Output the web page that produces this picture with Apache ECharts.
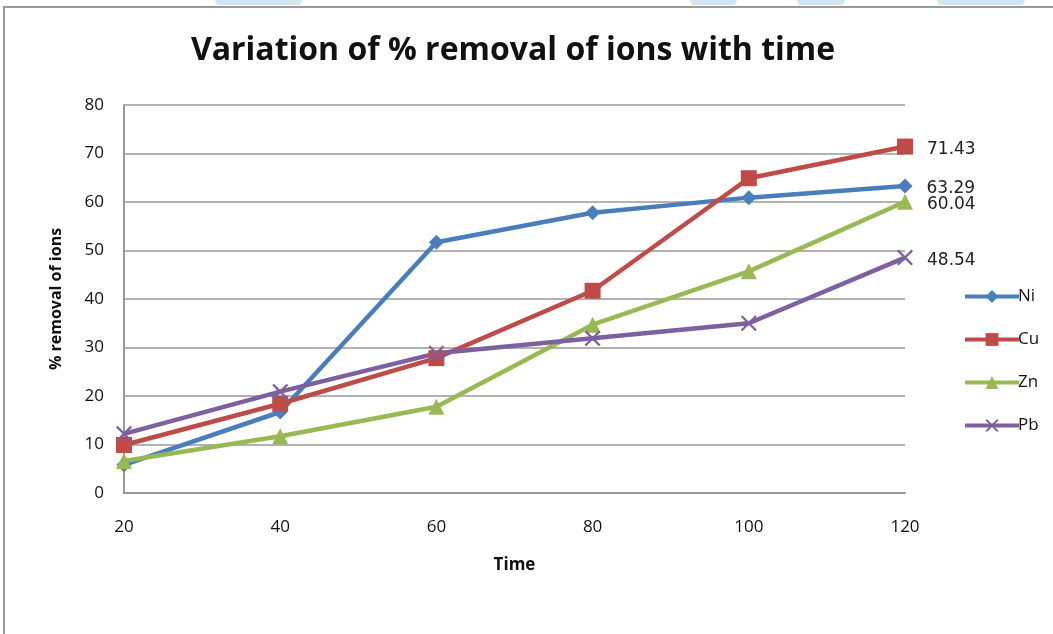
<!DOCTYPE html>
<html>
<head>
<meta charset="utf-8">
<title>Variation of % removal of ions with time</title>
<script src="https://cdn.jsdelivr.net/npm/echarts@6/dist/echarts.min.js"></script>
<style>
html,body{margin:0;padding:0;background:#fff;}
#main{width:1053px;height:634px;}
</style>
</head>
<body>
<div id="main"></div>
<script>
// 数据
var timeArr = ['20', '40', '60', '80', '100', '120'];
var niArr = [5.8, 16.7, 51.7, 57.8, 60.9, 63.29];
var cuArr = [9.9, 18.4, 27.8, 41.7, 64.9, 71.43];
var znArr = [6.6, 11.7, 17.8, 34.7, 45.7, 60.04];
var pbArr = [12.2, 20.9, 28.8, 31.9, 35.0, 48.54];
var yTicks = [0, 10, 20, 30, 40, 50, 60, 70, 80];

var colors = ['#4A7EBB', '#BE4B48', '#98B954', '#7D60A0'];
var crossPath = 'path://M0,1L1,0L5,4L9,0L10,1L6,5L10,9L9,10L5,6L1,10L0,9L4,5Z';

//只在最后一个点显示数值
function lastLabel(v) {
	var show = v.dataIndex == timeArr.length - 1;
	return show ? v.value : '';
}

function makeSeries(name, data, idx, symbol, size) {
	return {
		name: name,
		type: 'line',
		data: data,
		symbol: symbol,
		symbolSize: size,
		lineStyle: {width: 4.5, color: colors[idx]},
		itemStyle: {color: colors[idx]},
		label: {
			show: true,
			position: 'right',
			distance: 14,
			offset: [0, 3],
			formatter: lastLabel,
			color: '#222',
			fontSize: 17,
			fontFamily: 'DejaVu Sans'
		},
		emphasis: {disabled: true}
	};
}

var chartDom = document.getElementById('main');
var myChart = echarts.init(chartDom);
var option = {
	backgroundColor: '#fff',
	color: colors,
	animation: false,
	title: {
		text: 'Variation of % removal of ions with time',
		left: 508,
		top: 30,
		textAlign: 'center',
		textStyle: {fontSize: 32, fontWeight: 'bold', color: '#111', fontFamily: 'Open Sans'}
	},
	//外框和顶部浅蓝色块
	graphic: [
		{type: 'polyline', shape: {points: [[4, 634], [4, 7], [1053, 7]]}, style: {stroke: '#999', lineWidth: 2, fill: null}},
		{type: 'polygon', shape: {points: [[215, 0], [302, 0], [300, 5], [217, 5]]}, style: {fill: '#D3E6F0'}},
		{type: 'polygon', shape: {points: [[690, 0], [737, 0], [735, 5], [692, 5]]}, style: {fill: '#D3E6F0'}},
		{type: 'polygon', shape: {points: [[797, 0], [845, 0], [843, 5], [799, 5]]}, style: {fill: '#D3E6F0'}},
		{type: 'polygon', shape: {points: [[937, 0], [1025, 0], [1023, 5], [939, 5]]}, style: {fill: '#D3E6F0'}}
	],
	legend: {
		orient: 'vertical',
		left: 958,
		top: 283,
		itemGap: 26,
		itemWidth: 54,
		itemHeight: 16,
		lineStyle: {width: 4},
		textStyle: {fontSize: 17, color: '#111', fontFamily: 'Open Sans', padding: [0, 0, 0, -6]},
		data: ['Ni', 'Cu', 'Zn', 'Pb']
	},
	grid: {left: 124, right: 148, top: 105, bottom: 141},
	xAxis: {
		type: 'category',
		data: timeArr,
		boundaryGap: false,
		name: 'Time',
		nameLocation: 'middle',
		nameGap: 64,
		nameTextStyle: {fontSize: 17, fontWeight: 'bold', color: '#111', fontFamily: 'Open Sans'},
		axisLine: {lineStyle: {color: '#999', width: 2}},
		axisTick: {show: false},
		axisLabel: {fontSize: 17, color: '#111', margin: 26, fontFamily: 'Open Sans'},
	},
	yAxis: {
		type: 'value',
		min: yTicks[0],
		max: yTicks[yTicks.length - 1],
		interval: 10,
		name: '% removal of ions',
		nameLocation: 'middle',
		nameGap: 60,
		nameTextStyle: {fontSize: 16, fontWeight: 'bold', color: '#111', fontFamily: 'Open Sans'},
		axisLine: {show: true, lineStyle: {color: '#999', width: 2}},
		axisTick: {show: false},
		axisLabel: {fontSize: 17, color: '#111', margin: 20, fontFamily: 'Open Sans'},
		splitLine: {lineStyle: {color: '#999', width: 1.5}}
	},
	series: [
		makeSeries('Ni', niArr, 0, 'diamond', 15),
		makeSeries('Cu', cuArr, 1, 'rect', 16),
		makeSeries('Zn', znArr, 2, 'triangle', 16),
		makeSeries('Pb', pbArr, 3, crossPath, 16)
	]
};
myChart.setOption(option);
</script>
</body>
</html>
